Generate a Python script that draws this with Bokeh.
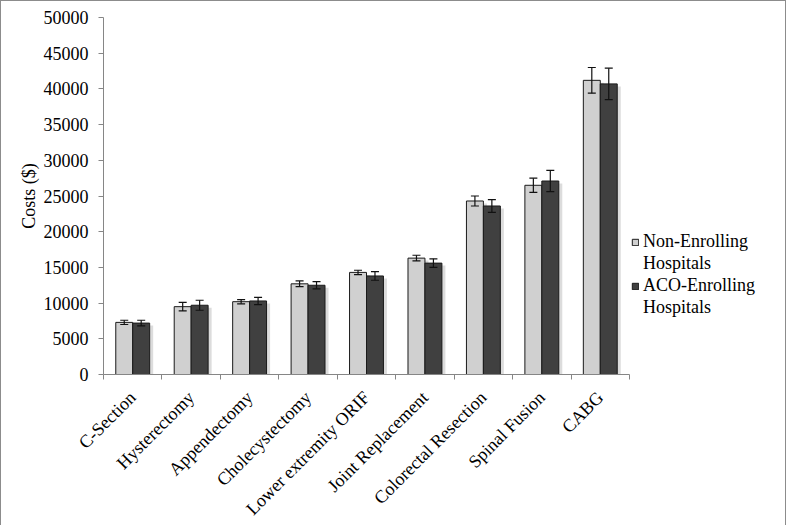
import math
import numpy as np
from bokeh.plotting import figure
from bokeh.models import (ColumnDataSource, Range1d, FixedTicker, Whisker, TeeHead,
                          Legend, LegendItem)
from bokeh.embed import file_html
from bokeh.resources import INLINE

categories = ["C-Section", "Hysterectomy", "Appendectomy", "Cholecystectomy",
              "Lower extremity ORIF", "Joint Replacement", "Colorectal Resection",
              "Spinal Fusion", "CABG"]
non_enrolling = [7300, 9500, 10200, 12700, 14300, 16300, 24300, 26500, 41200]
non_enrolling_err = [300, 600, 300, 400, 300, 400, 700, 1000, 1800]
aco_enrolling = [7200, 9700, 10300, 12500, 13800, 15600, 23600, 27100, 40700]
aco_enrolling_err = [400, 700, 500, 500, 600, 600, 900, 1500, 2200]
y_ticks = [0, 5000, 10000, 15000, 20000, 25000, 30000, 35000, 40000, 45000, 50000]
series_lines = [["Non-Enrolling", "Hospitals"], ["ACO-Enrolling", "Hospitals"]]

FONT = "Liberation Serif"
FS = "18px"
n = len(categories)
centers = np.arange(n) + 0.5
bw = 0.29
x_non = centers - bw / 2
x_aco = centers + bw / 2

AXIS_PX = 526
FRAME_PX = 672

src_non = ColumnDataSource(dict(
    x=x_non, top=non_enrolling,
    upper=np.array(non_enrolling) + np.array(non_enrolling_err),
    lower=np.array(non_enrolling) - np.array(non_enrolling_err),
    sx=x_non + 0.06, stop=np.array(non_enrolling) - 350))
src_aco = ColumnDataSource(dict(
    x=x_aco, top=aco_enrolling,
    upper=np.array(aco_enrolling) + np.array(aco_enrolling_err),
    lower=np.array(aco_enrolling) - np.array(aco_enrolling_err),
    sx=x_aco + 0.06, stop=np.array(aco_enrolling) - 350))

p = figure(frame_width=FRAME_PX, frame_height=357, output_backend="svg",
           toolbar_location=None,
           x_range=Range1d(0, n * FRAME_PX / AXIS_PX), y_range=Range1d(0, 50000),
           min_border_left=102, min_border_right=10, min_border_top=16,
           min_border_bottom=136)
p.styles = {"border": "1px solid #8c8c8c"}
p.outline_line_color = None
p.xgrid.visible = False
p.ygrid.visible = False

# soft shadows
for s in (src_non, src_aco):
    p.vbar(x="sx", top="stop", width=bw, bottom=0, source=s,
           fill_color="#9a9a9a", fill_alpha=0.35, line_color=None)

r_non = p.vbar(x="x", top="top", width=bw, source=src_non,
               fill_color="#d0d0d0", line_color="#1a1a1a", line_width=1)
r_aco = p.vbar(x="x", top="top", width=bw, source=src_aco,
               fill_color="#404040", line_color="#1a1a1a", line_width=1)
r_blank = p.vbar(x=[], top=[], width=bw, fill_alpha=0, line_alpha=0)

for s in (src_non, src_aco):
    w = Whisker(base="x", upper="upper", lower="lower", source=s,
                line_color="#111111", line_width=1.2, level="overlay",
                upper_head=TeeHead(size=8, line_color="#111111", line_width=1.2),
                lower_head=TeeHead(size=8, line_color="#111111", line_width=1.2))
    p.add_layout(w)

# axes
xa = p.xaxis[0]
xa.bounds = (0, n)
xa.ticker = FixedTicker(ticks=list(centers), minor_ticks=list(range(n + 1)))
xa.major_label_overrides = {float(c): lab for c, lab in zip(centers, categories)}
xa.major_label_orientation = math.pi / 4
xa.major_tick_line_color = None
xa.minor_tick_line_color = "#868686"
xa.minor_tick_in = 0
xa.minor_tick_out = 5
xa.axis_line_color = "#868686"
xa.major_label_text_font = FONT
xa.major_label_text_font_size = FS
xa.major_label_text_color = "#000000"
xa.major_label_standoff = 14

ya = p.yaxis[0]
ya.ticker = FixedTicker(ticks=y_ticks, minor_ticks=[])
ya.major_tick_in = 0
ya.major_tick_out = 5
ya.major_tick_line_color = "#868686"
ya.axis_line_color = "#868686"
ya.major_label_text_font = FONT
ya.major_label_text_font_size = FS
ya.major_label_text_color = "#000000"
ya.major_label_standoff = 10
ya.axis_label = "Costs ($)"
ya.axis_label_text_font = FONT
ya.axis_label_text_font_size = FS
ya.axis_label_text_font_style = "normal"
ya.axis_label_text_color = "#000000"
ya.axis_label_standoff = 2

items = [
    LegendItem(label=series_lines[0][0], renderers=[r_non]),
    LegendItem(label=series_lines[0][1], renderers=[r_blank]),
    LegendItem(label=series_lines[1][0], renderers=[r_aco]),
    LegendItem(label=series_lines[1][1], renderers=[r_blank]),
]
legend = Legend(items=items, location=(528, 56), orientation="vertical",
                label_text_font=FONT, label_text_font_size=FS,
                label_text_color="#000000", glyph_width=8, glyph_height=8,
                label_height=20, label_standoff=4, spacing=1, padding=2, margin=0,
                border_line_color=None, background_fill_alpha=0)
p.add_layout(legend)

open("out.html", "w").write(file_html(p, INLINE))
